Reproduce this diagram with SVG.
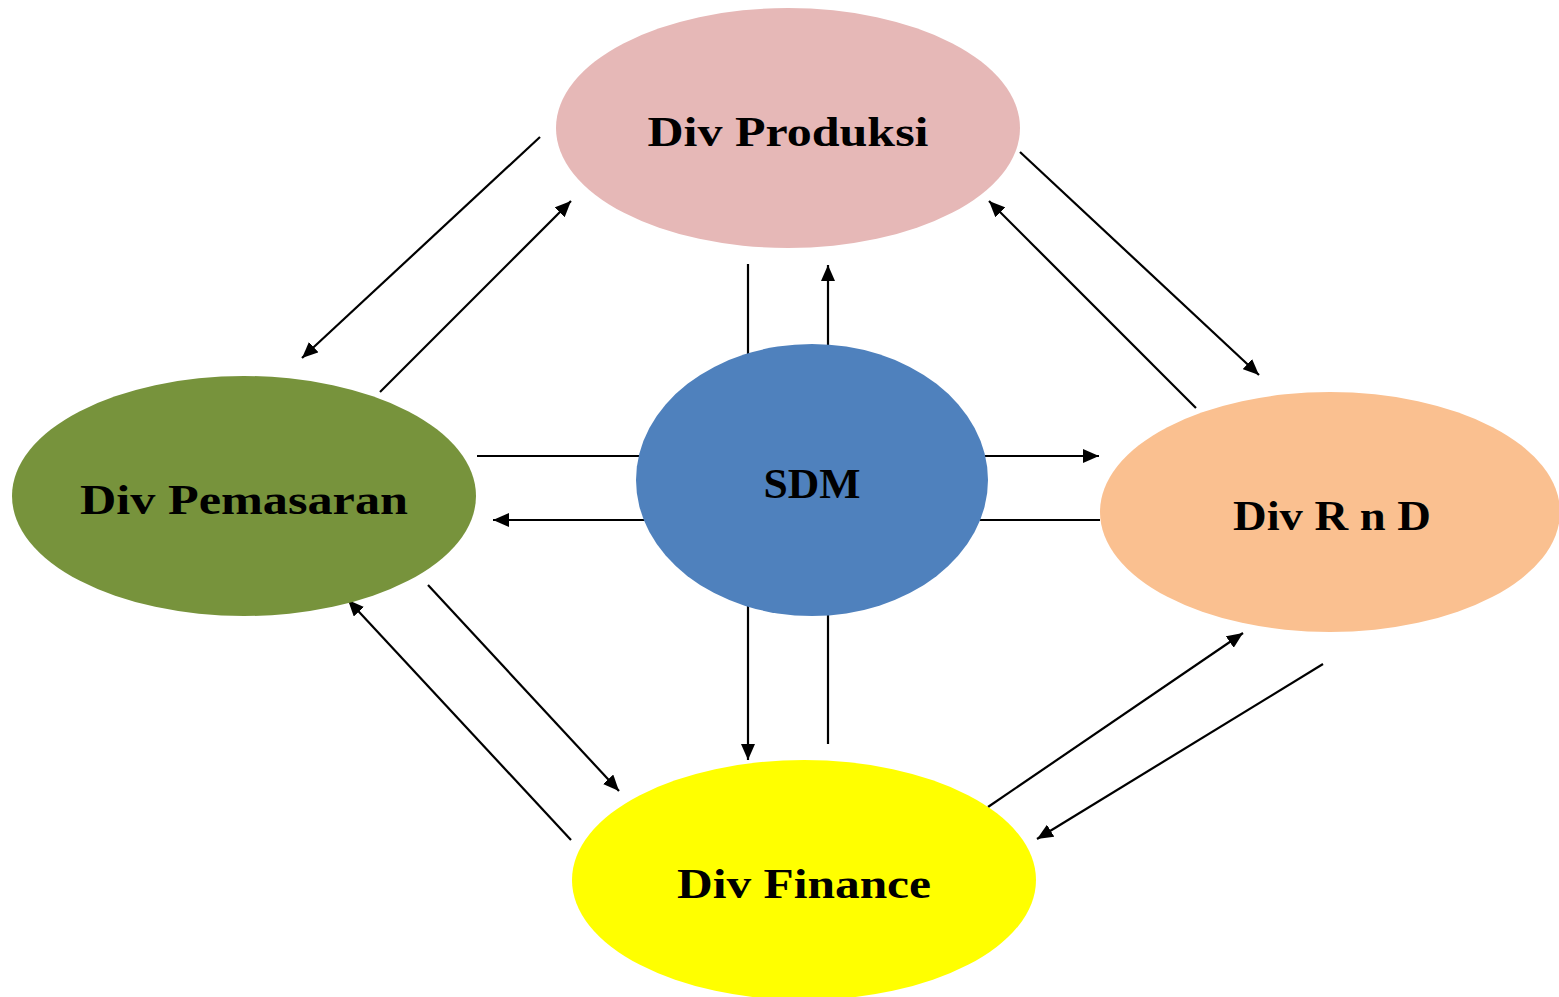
<svg xmlns="http://www.w3.org/2000/svg" width="1559" height="997" viewBox="0 0 1559 997">
<style>
.lbl{font-family:"Liberation Serif","DejaVu Serif",serif;font-weight:bold;font-size:42px;fill:#000;text-anchor:middle}
.c{stroke:#000;stroke-width:2.2;fill:none}
.a{marker-end:url(#ah)}
</style>
<defs>
<marker id="ah" markerUnits="userSpaceOnUse" markerWidth="18" markerHeight="14" refX="16" refY="7" orient="auto">
<path d="M0,0 L16,7 L0,14 Z" fill="#000"/>
</marker>
</defs>
<rect width="1559" height="997" fill="#fff"/>
<g id="connectors">
<line class="c a" x1="540" y1="137" x2="302" y2="358"/>
<line class="c a" x1="380" y1="392" x2="571" y2="201"/>
<line class="c" x1="748" y1="264" x2="748" y2="356"/>
<line class="c a" x1="828" y1="347" x2="828" y2="265"/>
<line class="c a" x1="1020" y1="152" x2="1259" y2="375"/>
<line class="c a" x1="1196" y1="408" x2="989" y2="201"/>
<line class="c" x1="477" y1="456" x2="642" y2="456"/>
<line class="c a" x1="645" y1="520" x2="493" y2="520"/>
<line class="c a" x1="985" y1="456" x2="1099" y2="456"/>
<line class="c" x1="980" y1="520" x2="1100" y2="520"/>
<line class="c a" x1="748" y1="606" x2="748" y2="760"/>
<line class="c" x1="828" y1="614" x2="828" y2="744"/>
<line class="c a" x1="428" y1="585" x2="619" y2="791"/>
<line class="c a" x1="571" y1="840" x2="348" y2="600"/>
<line class="c a" x1="988" y1="807" x2="1243" y2="633"/>
<line class="c a" x1="1323" y1="664" x2="1037" y2="839"/>
</g>
<g id="produksi">
<ellipse cx="788" cy="128" rx="232" ry="120" fill="#E6B8B7"/>
<text class="lbl" x="788" y="146" textLength="281" lengthAdjust="spacingAndGlyphs">Div Produksi</text>
</g>
<g id="pemasaran">
<ellipse cx="244" cy="496" rx="232" ry="120" fill="#77933C"/>
<text class="lbl" x="244" y="514" textLength="328" lengthAdjust="spacingAndGlyphs">Div Pemasaran</text>
</g>
<g id="sdm">
<ellipse cx="812" cy="480" rx="176" ry="136" fill="#4F81BD"/>
<text class="lbl" x="812" y="498" textLength="97" lengthAdjust="spacingAndGlyphs">SDM</text>
</g>
<g id="rnd">
<ellipse cx="1330" cy="512" rx="230" ry="120" fill="#FAC090"/>
<text class="lbl" x="1332" y="530" textLength="198" lengthAdjust="spacingAndGlyphs">Div R n D</text>
</g>
<g id="finance">
<ellipse cx="804" cy="880" rx="232" ry="120" fill="#FFFF00"/>
<text class="lbl" x="804" y="898" textLength="254" lengthAdjust="spacingAndGlyphs">Div Finance</text>
</g>
</svg>
